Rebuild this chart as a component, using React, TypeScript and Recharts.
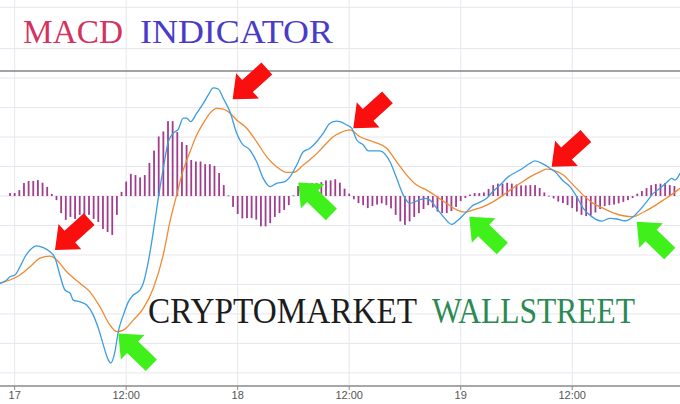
import React from "react";
import {
  ComposedChart,
  Line,
  Bar,
  XAxis,
  YAxis,
  CartesianGrid,
  ReferenceLine,
  ReferenceDot,
} from "recharts";

// time axis: hours since "17" (30-minute bars)
const TICK_T = [0, 12, 24, 36, 48, 60];
const TICK_LABELS = ["17", "12:00", "18", "12:00", "19", "12:00"];

// histogram: one value per 30-min bar, starting at t = -0.5
const HIST_START = -0.5;
const HIST_STEP = 0.5;
const HIST = [
  1.0, 1.0, 2.0, 4.4, 5.1, 5.1, 5.4, 4.5, 3.1, 0.7, -1.4, -5.8, -8.1, -7.1, -7.8,
  -6.4, -7.1, -6.4, -7.8, -8.8, -11.2, -12.2, -13.2, -6.4, 1.4, 4.9, 7.5, 7.1, 6.3,
  7.1, 11.2, 15.4, 20.2, 21.9, 25.4, 25.4, 21.7, 18.3, 17.3, 12.2, 11.7, 11.7, 10.8,
  10.8, 10.2, 7.8, 3.7, 0.2, -3.7, -6.1, -7.6, -7.5, -7.5, -8.0, -10.3, -10.3, -9.2,
  -7.1, -5.8, -4.7, -3.1, 0.2, 3.4, 3.9, 4.1, 4.4, 4.4, 4.7, 5.3, 5.3, 5.7, 4.5, 2.5,
  0.8, -1.1, -2.4, -3.1, -4.1, -3.4, -2.9, -2.5, -3.1, -4.2, -6.4, -8.6, -9.8, -8.6,
  -7.1, -5.8, -4.4, -3.1, -3.9, -5.3, -5.8, -5.8, -5.1, -3.7, -1.7, -0.7, 0.5, 1.0,
  1.0, 1.2, 2.4, 3.7, 4.2, 4.2, 4.5, 4.2, 3.9, 3.6, 3.6, 3.7, 3.7, 2.7, 1.2, 0.1,
  -0.8, -1.9, -2.4, -3.1, -4.1, -5.3, -6.4, -6.8, -6.6, -5.6, -4.4, -3.4, -3.1, -2.9,
  -2.5, -2.0, -1.4, -0.7, 0.8, 1.7, 2.7, 3.7, 4.1, 4.2, 4.4, 3.7, 3.4,
];

// MACD line (blue)
const MACD_T = [
  -1.58, -0.86, -0.51, 0.03, 0.57, 1.11, 1.65, 2.37, 3.08, 3.8, 4.34, 4.87, 5.41, 5.95,
  6.31, 7.03, 7.75, 8.46, 9.0, 9.54, 10.07, 10.33, 10.79, 11.15, 11.69, 12.23, 12.76,
  13.48, 13.84, 14.38, 14.92, 15.45, 15.99, 16.53, 17.07, 17.61, 18.14, 18.51, 18.94,
  19.59, 20.3, 20.84, 21.37, 21.91, 22.45, 23.17, 23.89, 24.43, 25.32, 26.04, 26.75,
  27.48, 28.2, 29.09, 29.63, 30.35, 31.06, 31.78, 32.5, 33.21, 33.93, 34.65, 35.01,
  35.73, 36.27, 36.81, 37.52, 38.05, 39.31, 40.39, 41.11, 41.82, 42.54, 43.26, 44.16,
  44.7, 45.42, 46.13, 47.03, 47.74, 48.46, 49.35, 50.07, 50.8, 51.51, 52.23, 53.12,
  54.38, 55.46, 55.99, 56.89, 57.61, 58.15, 59.04, 59.76, 60.48, 61.19, 62.1, 63.17,
  64.07, 64.79, 65.68, 66.57, 67.29, 68.02, 68.73, 69.45, 70.17, 70.71, 71.06, 71.6,
];
const MACD_V = [
  -29.6, -28.5, -27.4, -26.8, -24.0, -20.6, -18.3, -16.9, -17.5, -18.9, -21.0, -26.8,
  -31.9, -32.9, -35.3, -35.9, -37.0, -40.4, -44.8, -50.5, -55.6, -56.7, -52.8, -46.0,
  -40.4, -35.9, -33.6, -31.9, -29.6, -22.3, -12.1, -0.8, 9.4, 18.4, 21.3, 22.7, 26.4,
  26.4, 25.2, 28.1, 31.4, 34.3, 36.7, 36.3, 33.1, 28.6, 21.3, 17.9, 15.6, 11.6, 6.0,
  3.2, 4.3, 4.9, 6.5, 10.5, 15.0, 16.2, 18.4, 21.3, 24.7, 25.4, 25.2, 24.1, 23.0, 19.0,
  17.3, 15.3, 15.3, 11.6, 6.0, 0.3, -2.5, -1.7, -0.8, -1.4, -4.2, -7.0, -9.6, -8.1,
  -5.9, -3.1, -2.1, -0.8, 1.7, 3.7, 6.5, 8.8, 11.1, 11.9, 10.8, 9.4, 8.2, 5.1, 3.2,
  -0.2, -4.2, -7.0, -8.5, -7.6, -7.8, -8.4, -7.0, -4.7, -1.9, 0.9, 2.6, 4.6, 6.0, 5.4,
  7.7,
];

// Signal line (orange)
const SIGNAL_T = [
  -1.58, -0.51, 0.57, 1.65, 2.72, 3.8, 4.52, 5.6, 7.03, 8.1, 9.18, 10.26, 10.98, 11.69,
  12.76, 13.84, 14.92, 15.99, 16.71, 17.43, 18.14, 18.87, 19.59, 20.3, 21.02, 21.74,
  22.45, 23.17, 23.89, 24.97, 26.04, 27.12, 28.2, 29.27, 29.98, 31.06, 32.14, 33.21,
  34.29, 35.01, 36.08, 37.16, 38.59, 40.03, 41.11, 42.19, 43.26, 44.34, 45.42, 46.49,
  47.57, 48.46, 49.35, 50.43, 51.51, 52.58, 53.3, 54.38, 55.46, 56.53, 57.25, 57.96,
  59.04, 60.12, 61.19, 62.27, 63.35, 64.42, 65.5, 66.57, 67.65, 68.73, 69.8, 70.88,
  71.6,
];
const SIGNAL_V = [
  -29.6, -28.5, -26.8, -24.0, -21.1, -20.4, -21.7, -25.7, -29.6, -32.5, -37.6, -43.8,
  -46.0, -45.5, -42.1, -38.1, -31.3, -20.0, -8.7, 0.3, 8.8, 15.0, 20.7, 24.7, 28.1,
  29.7, 29.5, 28.1, 25.8, 23.0, 18.4, 13.3, 9.9, 8.0, 8.0, 10.5, 13.3, 16.7, 20.1, 21.4,
  22.4, 20.1, 18.4, 16.2, 11.6, 7.1, 3.7, 2.0, -0.2, -2.5, -4.7, -5.5, -4.7, -3.6, -1.9,
  0.3, 2.0, 4.3, 6.5, 8.2, 9.1, 8.8, 7.1, 3.7, 0.3, -2.5, -4.2, -5.7, -6.7, -7.0, -5.5,
  -3.6, -1.4, 0.9, 2.6,
];

// arrow annotations (tip positions)
const SELL_T = [4.34, 23.46, 36.44, 57.79];
const SELL_V = [-18.3, 32.8, 23.0, 9.9];
const BUY_T = [11.15, 30.52, 48.92, 66.94];
const BUY_V = [-46.6, 4.6, -7.0, -8.7];

const GRID_V = [-60, -50, -40, -30, -20, -10, 0, 10, 20, 30, 40, 50, 64];
const PANE_SEPARATOR = 42.4;

const histData = HIST.map((h, i) => ({ t: HIST_START + i * HIST_STEP, h }));
const macdData = MACD_T.map((t, i) => ({ t, v: MACD_V[i] }));
const signalData = SIGNAL_T.map((t, i) => ({ t, v: SIGNAL_V[i] }));

const ARROW_POINTS = "0,0 20,-17 20,-8 46,-8 46,8 20,8 20,17";

const makeArrow = (color: string, angle: number) => (props: any) => {
  const { cx, cy } = props;
  if (cx == null || cy == null) return <g />;
  return (
    <polygon
      points={ARROW_POINTS}
      transform={`translate(${cx},${cy}) rotate(${angle})`}
      fill={color}
    />
  );
};

const SellArrow = makeArrow("#fa0f0f", -42);
const BuyArrow = makeArrow("#3ff01a", 44);

const HistBar = (props: any) => {
  const { x, y, width, height } = props;
  if (x == null || y == null || !isFinite(height)) return <g />;
  const cx = x + (width || 0) / 2;
  const top = height < 0 ? y + height : y;
  const h = Math.max(Math.abs(height), 0.8);
  return <rect x={cx - 0.9} y={top} width={1.8} height={h} fill="#a23d8e" />;
};

export default function App() {
  const serif = "'Liberation Serif', 'Times New Roman', serif";
  return (
    <div style={{ position: "absolute", left: 0, top: 0, width: 680, height: 404, background: "#fff" }}>
      <ComposedChart
        width={680}
        height={404}
        data={histData}
        margin={{ top: 0, right: 0, bottom: 0, left: 0 }}
      >
        <CartesianGrid
          stroke="#e6e6ee"
          strokeWidth={1}
          horizontalValues={GRID_V}
          verticalValues={TICK_T}
        />
        <XAxis
          dataKey="t"
          type="number"
          domain={[-1.58, 71.6]}
          allowDataOverflow
          ticks={TICK_T}
          tickFormatter={(t: number) => TICK_LABELS[TICK_T.indexOf(t)] ?? ""}
          height={18}
          tickSize={4}
          tickMargin={1}
          axisLine={{ stroke: "#8a8a8a", strokeWidth: 1.5 }}
          tickLine={{ stroke: "#8a8a8a" }}
          tick={{ fill: "#555", fontSize: 11, fontFamily: "'Liberation Sans Narrow', 'Liberation Sans', Arial, sans-serif" }}
        />
        <YAxis
          hide
          type="number"
          domain={[-64.45, 66.49]}
          allowDataOverflow
          ticks={GRID_V}
        />
        <ReferenceLine y={PANE_SEPARATOR} stroke="#858585" strokeWidth={1.5} />
        <Bar dataKey="h" fill="#a23d8e" barSize={2} shape={HistBar} isAnimationActive={false} />
        <Line
          data={signalData}
          dataKey="v"
          type="monotone"
          stroke="#f08a32"
          strokeWidth={1.3}
          dot={false}
          activeDot={false}
          isAnimationActive={false}
        />
        <Line
          data={macdData}
          dataKey="v"
          type="monotone"
          stroke="#3b9ddf"
          strokeWidth={1.3}
          dot={false}
          activeDot={false}
          isAnimationActive={false}
        />
        {SELL_T.map((t, i) => (
          <ReferenceDot key={"s" + i} x={t} y={SELL_V[i]} r={1} shape={SellArrow} />
        ))}
        {BUY_T.map((t, i) => (
          <ReferenceDot key={"b" + i} x={t} y={BUY_V[i]} r={1} shape={BuyArrow} />
        ))}
      </ComposedChart>
      <svg
        width={680}
        height={404}
        style={{ position: "absolute", left: 0, top: 0, pointerEvents: "none" }}
      >
        <text x={23} y={43} fontFamily={serif} fontSize={34} fill="#d4325f" textLength={100} lengthAdjust="spacingAndGlyphs">
          MACD
        </text>
        <text x={140} y={43} fontFamily={serif} fontSize={34} fill="#4a3bc9" textLength={193} lengthAdjust="spacingAndGlyphs">
          INDICATOR
        </text>
        <text x={148} y={322.5} fontFamily={serif} fontSize={36} fill="#1c1c1c" textLength={269} lengthAdjust="spacingAndGlyphs">
          CRYPTOMARKET
        </text>
        <text x={432} y={322.5} fontFamily={serif} fontSize={36} fill="#2a8a52" textLength={203} lengthAdjust="spacingAndGlyphs">
          WALLSTREET
        </text>
      </svg>
    </div>
  );
}
